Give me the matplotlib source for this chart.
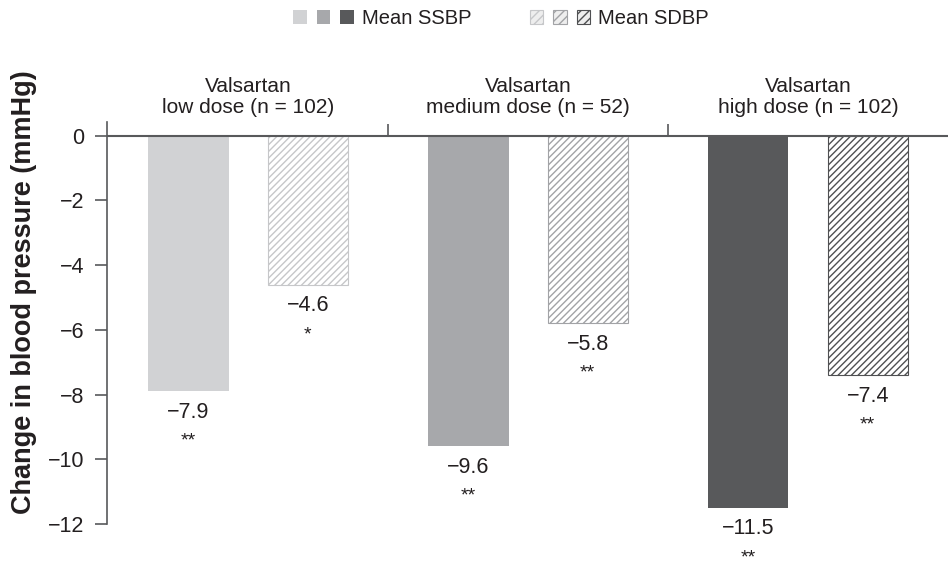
import matplotlib.pyplot as plt
from matplotlib.legend_handler import HandlerTuple
from matplotlib.patches import Patch

plt.rcParams["font.family"] = ["Liberation Sans", "DejaVu Sans"]
plt.rcParams["hatch.linewidth"] = 1.0

groups = ["Valsartan\nlow dose (n = 102)", "Valsartan\nmedium dose (n = 52)", "Valsartan\nhigh dose (n = 102)"]
ssbp = [-7.9, -9.6, -11.5]
sdbp = [-4.6, -5.8, -7.4]
ssbp_sig = ["**", "**", "**"]
sdbp_sig = ["*", "**", "**"]

ssbp_colors = ["#d1d2d4", "#a7a8ab", "#58595b"]
sdbp_colors = ["#c6c7c9", "#a2a3a6", "#4f5052"]
text_col = "#231f20"
axis_col = "#58595b"

fig = plt.figure(figsize=(9.49, 5.67), dpi=100)
ax = fig.add_axes([0.1128, 0.0758, 0.8862, 0.709])

x = list(range(len(groups)))
w = 0.286
off = 0.213

for i in x:
    ax.bar(i - off, ssbp[i], w, color=ssbp_colors[i], linewidth=0)
    ax.bar(i + off, sdbp[i], w, facecolor="white", edgecolor=sdbp_colors[i],
           hatch="/////", linewidth=0.8)
    for xi, v, s in [(i - off, ssbp[i], ssbp_sig[i]), (i + off, sdbp[i], sdbp_sig[i])]:
        ax.annotate("\u2212%.1f" % abs(v), (xi, v), xytext=(0, -21), textcoords="offset pixels",
                    ha="center", va="center", fontsize=15.5, color=text_col)
        ax.annotate(s, (xi, v), xytext=(0, -50), textcoords="offset pixels",
                    ha="center", va="center", fontsize=14, color=text_col)
    ax.annotate(groups[i], (i, 0.42), xytext=(0, 5), textcoords="offset pixels",
                ha="center", va="bottom", fontsize=15, color=text_col,
                linespacing=1.15, annotation_clip=False)

ax.axhline(0, color=axis_col, linewidth=1.5, zorder=3)
ax.vlines([0.5, 1.5], 0, 0.35, color=axis_col, linewidth=1.2)

ax.set_xlim(-0.504, 2.5)
ax.set_ylim(-12, 0.42)
ax.set_yticks([0, -2, -4, -6, -8, -10, -12])
ax.set_yticklabels(["0", "\u22122", "\u22124", "\u22126", "\u22128", "\u221210", "\u221212"])
ax.tick_params(axis="y", length=8.6, width=1.2, color=axis_col, labelsize=15.5,
               labelcolor=text_col, pad=8)
ax.set_xticks([])
for sp in ["top", "right", "bottom"]:
    ax.spines[sp].set_visible(False)
ax.spines["left"].set_color(axis_col)
ax.spines["left"].set_linewidth(1.2)
ax.set_ylabel("Change in blood pressure (mmHg)", fontsize=19.5, fontweight="bold",
              color=text_col)
ax.yaxis.set_label_coords(-0.083, 0.577)

h1 = tuple(Patch(facecolor=c, linewidth=0) for c in ssbp_colors)
h2 = tuple(Patch(facecolor="#eeeeee", edgecolor=c, hatch="////", linewidth=0.8) for c in sdbp_colors)
fig.legend([h1, h2], ["Mean SSBP", "Mean SDBP"], loc="center", bbox_to_anchor=(0.528, 0.968),
           ncol=2, frameon=False, fontsize=14.5, handler_map={tuple: HandlerTuple(ndivide=None, pad=0.5)},
           handlelength=3.0, handleheight=0.7, handletextpad=0.4, columnspacing=2.9,
           labelcolor=text_col)

fig.savefig("out.png", dpi=100)
